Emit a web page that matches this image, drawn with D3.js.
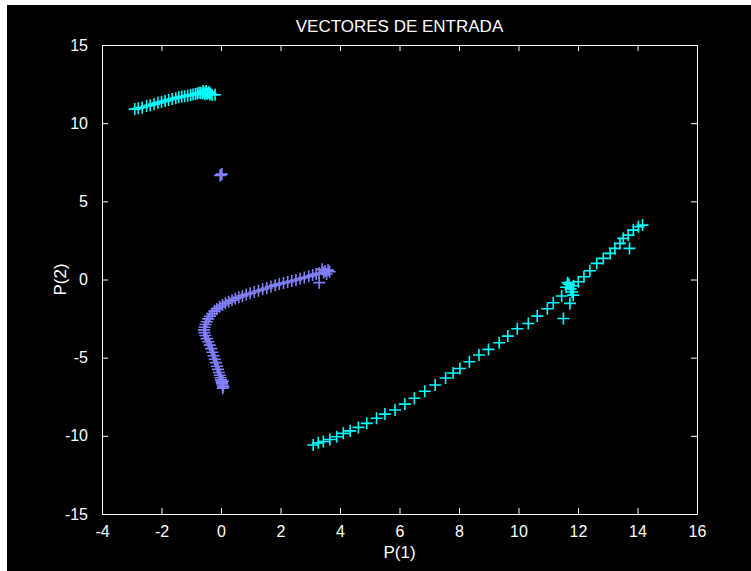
<!DOCTYPE html>
<html>
<head>
<meta charset="utf-8">
<script src="https://cdn.jsdelivr.net/npm/d3@7"></script>
<style>
html,body{margin:0;padding:0;background:#fff;}
svg{display:block;}
text{font-family:"Liberation Sans",Arial,sans-serif;fill:#fff;}
</style>
</head>
<body>
<svg id="chart" width="751" height="571"></svg>
<script>
// ---- data ----
const titleText = "VECTORES DE ENTRADA";
const xLabelText = "P(1)";
const yLabelText = "P(2)";
const xDomain = [-4, 16];
const yDomain = [-15, 15];
const xTicks = [-4, -2, 0, 2, 4, 6, 8, 10, 12, 14, 16];
const yTicks = [-15, -10, -5, 0, 5, 10, 15];

// cyan cluster (upper left arc)
const cyanArc = [
  [-2.9,10.9],[-2.78,10.95],[-2.65,11.0],[-2.5,11.1],[-2.38,11.15],[-2.25,11.22],
  [-2.12,11.3],[-2.0,11.35],[-1.88,11.42],[-1.76,11.48],[-1.64,11.55],[-1.52,11.6],
  [-1.42,11.65],[-1.32,11.7],[-1.22,11.72],[-1.12,11.76],[-1.02,11.8],[-0.94,11.83],
  [-0.86,11.86],[-0.8,11.9],[-0.74,11.95],[-0.68,11.93],[-0.62,11.9],[-0.58,11.98],
  [-0.54,11.85],[-0.5,11.92],[-0.46,11.88],[-0.42,11.95],[-0.38,11.85],[-0.35,11.9],
  [-0.3,11.8],[-0.5,12.05],[-0.6,12.05],[-0.4,12.0],[-0.2,11.82]
];
// cyan cluster (diagonal line, lower right)
const cyanLine = [
  [3.10,-10.59],[3.27,-10.45],[3.44,-10.36],[3.66,-10.23],[3.89,-10.06],[4.11,-9.84],
  [4.34,-9.68],[4.62,-9.46],[4.90,-9.20],[5.23,-8.88],[5.51,-8.61],[5.85,-8.35],
  [6.18,-7.97],[6.5,-7.6],[6.85,-7.15],[7.2,-6.75],[7.55,-6.3],[7.8,-5.98],
  [8.03,-5.69],[8.35,-5.26],[8.67,-4.83],[8.99,-4.47],[9.35,-4.05],[9.64,-3.62],
  [9.96,-3.15],[10.33,-2.81],[10.63,-2.34],[10.97,-1.87],[11.17,-1.49],[11.45,-1.06],
  [11.6,-0.5],[11.7,-0.3],[11.75,-0.6],[11.8,-0.8],[11.65,-0.2],[11.85,-0.4],
  [12.01,-0.14],[12.20,0.18],[12.40,0.56],[12.63,1.03],[12.85,1.35],[13.08,1.67],
  [13.24,1.99],[13.41,2.31],[13.52,2.63],[13.69,2.84],[13.86,3.16],[14.03,3.37],[14.17,3.48],
  [11.51,-2.49],[11.73,-1.53],[11.84,-1.0],[13.73,1.99]
];
// purple cluster
const purplePts = [
  [0.0,6.7],[0.03,6.75],[-0.03,6.65],
  [3.65,0.5],[3.6,0.6],[3.55,0.35],[3.5,0.55],[3.45,0.45],[3.4,0.65],[3.3,0.4],[3.3,-0.2],
  [3.2,0.35],[3.08,0.28],[2.95,0.2],[2.8,0.12],[2.66,0.05],[2.52,-0.03],[2.38,-0.1],
  [2.24,-0.16],[2.1,-0.22],[1.96,-0.28],[1.82,-0.36],[1.68,-0.45],[1.54,-0.54],[1.4,-0.63],
  [1.26,-0.72],[1.12,-0.8],[0.98,-0.88],[0.85,-0.96],[0.72,-1.05],[0.6,-1.14],[0.48,-1.22],
  [0.37,-1.32],[0.26,-1.42],[0.15,-1.52],[0.05,-1.63],[-0.05,-1.75],[-0.14,-1.88],
  [-0.22,-2.02],[-0.3,-2.18],[-0.37,-2.35],[-0.43,-2.52],[-0.48,-2.7],[-0.52,-2.88],
  [-0.55,-3.05],[-0.57,-3.22],[-0.56,-3.4],[-0.53,-3.58],[-0.48,-3.78],[-0.43,-3.98],
  [-0.38,-4.2],[-0.33,-4.42],[-0.29,-4.65],[-0.25,-4.88],[-0.21,-5.1],[-0.17,-5.32],
  [-0.13,-5.55],[-0.1,-5.75],[-0.07,-5.95],[-0.04,-6.12],[-0.02,-6.28],[0.0,-6.42],
  [0.02,-6.55],[0.03,-6.65],[0.05,-6.75],[0.04,-6.6],[0.06,-6.5],[0.08,-6.85],[0.06,-6.95]
];
const cyanColor = "#00ffff";
const purpleColor = "#8080ff";

// ---- layout ----
const svg = d3.select("#chart");
const L = 102, R = 697, T = 45, B = 514;
svg.append("rect").attr("x", 7).attr("y", 5).attr("width", 744).attr("height", 566).attr("fill", "#000");

const x = d3.scaleLinear().domain(xDomain).range([L, R]);
const y = d3.scaleLinear().domain(yDomain).range([B, T]);

const tickLen = 6;
const fmt = d => String(d);

// bottom axis
const gx = svg.append("g").attr("transform", `translate(0,${B})`)
  .call(d3.axisBottom(x).tickValues(xTicks).tickSizeInner(-tickLen).tickSizeOuter(0).tickPadding(tickLen + 6).tickFormat(fmt));
// left axis
const gy = svg.append("g").attr("transform", `translate(${L},0)`)
  .call(d3.axisLeft(y).tickValues(yTicks).tickSizeInner(-tickLen).tickSizeOuter(0).tickPadding(tickLen + 8).tickFormat(fmt));
// top axis
const gt = svg.append("g").attr("transform", `translate(0,${T})`)
  .call(d3.axisTop(x).tickValues(xTicks).tickSizeInner(-tickLen).tickSizeOuter(0).tickFormat(""));
// right axis
const gr = svg.append("g").attr("transform", `translate(${R},0)`)
  .call(d3.axisRight(y).tickValues(yTicks).tickSizeInner(-tickLen).tickSizeOuter(0).tickFormat(""));

[gx, gy, gt, gr].forEach(g => {
  g.select(".domain").attr("stroke", "#fff");
  g.selectAll(".tick line").attr("stroke", "#fff");
  g.selectAll(".tick text").attr("fill", "#fff").style("font-size", "16px")
    .style("font-family", '"Liberation Sans", Arial, sans-serif');
});

// markers '+'
const half = 6;
function plus(data, color) {
  const g = svg.append("g");
  g.selectAll("path").data(data).enter().append("path")
    .attr("d", d => {
      const cx = x(d[0]), cy = y(d[1]);
      return `M${cx - half},${cy}H${cx + half}M${cx},${cy - half}V${cy + half}`;
    })
    .attr("stroke", color).attr("stroke-width", 1.6).attr("fill", "none");
}
plus(purplePts, purpleColor);
plus(cyanArc, cyanColor);
plus(cyanLine, cyanColor);

// texts
svg.append("text").attr("x", (L + R) / 2).attr("y", 32).attr("text-anchor", "middle")
  .style("font-size", "17px").text(titleText);
svg.append("text").attr("x", (L + R) / 2).attr("y", 558).attr("text-anchor", "middle")
  .style("font-size", "17px").text(xLabelText);
svg.append("text").attr("transform", `translate(66,${(T + B) / 2}) rotate(-90)`).attr("text-anchor", "middle")
  .style("font-size", "17px").text(yLabelText);
</script>
</body>
</html>
